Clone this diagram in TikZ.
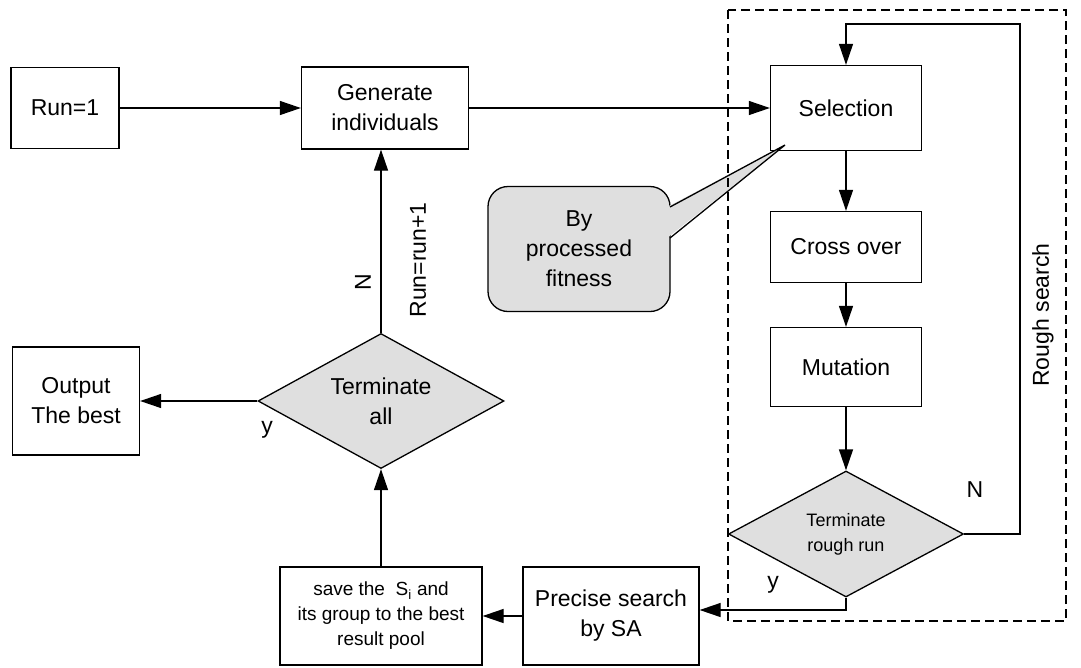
\documentclass[tikz,border=0pt]{standalone}
\usepackage{fontspec}
\setmainfont{Liberation Sans}
\usetikzlibrary{arrows.meta,shapes.geometric,calc}
\begin{document}
\begin{tikzpicture}[x=1pt,y=-1pt,
  line width=1.3pt,
  txt/.style={font=\fontsize{23}{30}\selectfont, align=center},
  box/.style={draw, txt, inner sep=0pt},
  dia/.style={draw, diamond, aspect=1.8, fill=gray!25, inner sep=0pt, txt},
  arr/.style={-{Triangle[length=21pt,width=14pt]}},
  lab/.style={txt, inner sep=0pt},
  frame/.style={dash pattern=on 9pt off 5pt, line width=1.1pt}]
\useasboundingbox (0,0) rectangle (1081,667);

\node[box, minimum width=108pt, minimum height=81pt] (run) at (65,108) {Run=1};
\node[box, minimum width=167pt, minimum height=82pt] (gen) at (385,108) {Generate\\individuals};
\node[box, minimum width=151pt, minimum height=85pt] (sel) at (846,108) {Selection};
\node[box, minimum width=151pt, minimum height=71pt] (cross) at (846,247) {Cross over};
\node[box, minimum width=151pt, minimum height=79pt] (mut) at (846,367) {Mutation};
\node[dia, minimum width=235pt, minimum height=126pt, font=\fontsize{18}{25}\selectfont] (trr) at (846,534) {Terminate\\rough run};
\node[box, minimum width=176pt, minimum height=98pt] (prec) at (611,616) {Precise search\\by SA};
\node[box, minimum width=202pt, minimum height=98pt, font=\fontsize{19}{25}\selectfont] (save) at (381,616) {save the\ \ S\textsubscript{i} and\\its group to the best\\result pool};
\node[dia, minimum width=246pt, minimum height=135pt] (ta) at (381,401) {Terminate\\all};
\node[box, minimum width=127pt, minimum height=108pt] (out) at (76,401) {Output\\The best};

\node[draw, fill=gray!25, rounded corners=20pt, minimum width=182pt, minimum height=125pt, txt, inner sep=0pt] (cb) at (579,249) {By\\processed\\fitness};
\coordinate (tip) at (785,145);
\coordinate (w1) at (670,207);
\coordinate (w2) at (670,238);
\fill[gray!25] ($(w1)+(-3,0)$) -- (tip) -- ($(w2)+(-3,0)$) -- cycle;
\draw (w1) -- (tip) -- (w2);

\draw[frame] (728,10) rectangle (1066,621);

\draw[arr] (run) -- (gen);
\draw[arr] (gen) -- (sel);
\draw[arr] (sel) -- (cross);
\draw[arr] (cross) -- (mut);
\draw[arr] (mut) -- (trr);
\coordinate (lp) at (1020,24);
\draw[arr] (trr.east) -| (lp) -| (sel.north);
\draw[arr] (trr.south) |- ([yshift=6pt]prec.east);
\draw[arr] (prec) -- (save);
\draw[arr] (save) -- (ta);
\draw[arr] (ta.north) -- (ta.north |- gen.south);
\draw[arr] (ta) -- (out);

\node[lab] (nlab) at (975,490) {N};
\node[lab] (ylab1) at (773,585) {y};
\node[lab] (ylab2) at (267,430) {y};
\node[lab, rotate=90] (nlab2) at (363,282) {N};
\node[lab, rotate=90] (runlab) at (418,260) {Run=run+1};
\node[lab, rotate=90] (rough) at (1043,315) {Rough search};
\end{tikzpicture}
\end{document}
